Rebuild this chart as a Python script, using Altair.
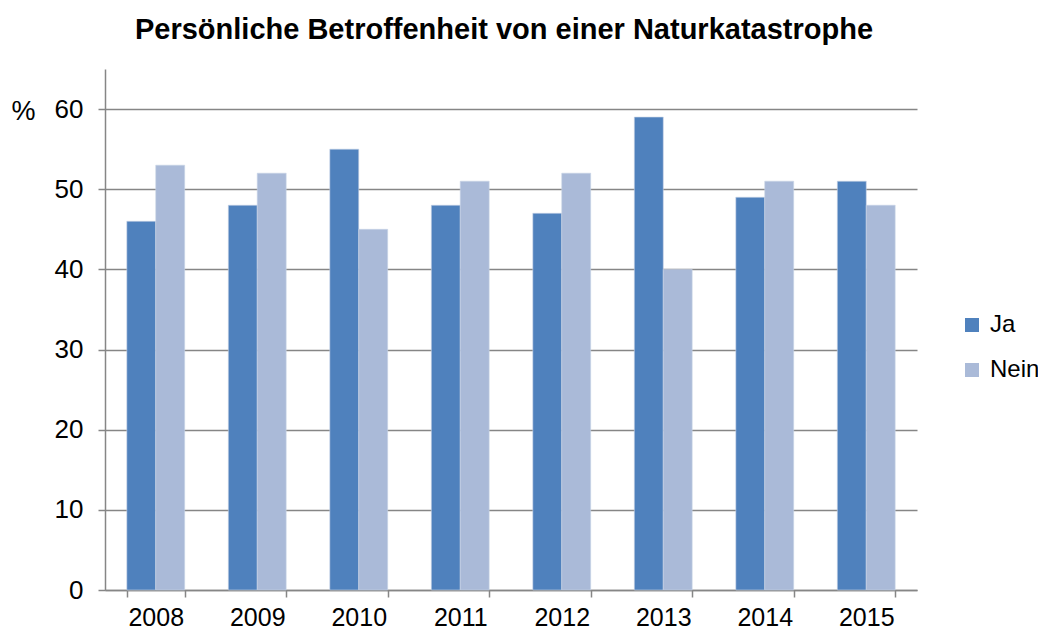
import altair as alt
import pandas as pd

years = ["2008", "2009", "2010", "2011", "2012", "2013", "2014", "2015"]
ja = [46, 48, 55, 48, 47, 59, 49, 51]
nein = [53, 52, 45, 51, 52, 40, 51, 48]
series = ["Ja", "Nein"]
colors = ["#4F81BD", "#AABAD8"]
y_ticks = [0, 10, 20, 30, 40, 50, 60]

rows = []
for i, yr in enumerate(years):
    rows.append({"Jahr": yr, "Antwort": "Ja", "Wert": ja[i]})
    rows.append({"Jahr": yr, "Antwort": "Nein", "Wert": nein[i]})
df = pd.DataFrame(rows)

font = "Liberation Sans"
axis_color = "#868686"

chart = alt.Chart(df).mark_bar(stroke="#c8d3e6", strokeWidth=0.6).encode(
    x=alt.X("Jahr:N", sort=years, title=None,
            scale=alt.Scale(paddingInner=0.43, paddingOuter=0.215),
            axis=alt.Axis(labelAngle=0, labelFontSize=25, labelFont=font, labelColor="#000000",
                          tickBand="extent", tickSize=7, tickColor=axis_color, tickWidth=1.5,
                          domainColor=axis_color, domainWidth=1.5, labelPadding=8, grid=False)),
    xOffset=alt.XOffset("Antwort:N", sort=series, scale=alt.Scale(paddingInner=0, paddingOuter=0)),
    y=alt.Y("Wert:Q", title="%",
            scale=alt.Scale(domain=[0, 65], nice=False),
            axis=alt.Axis(values=y_ticks, labelFontSize=26, labelFont=font, labelColor="#000000",
                          tickSize=7, tickColor=axis_color, tickWidth=1.5,
                          domainColor=axis_color, domainWidth=1.5,
                          gridColor=axis_color, gridWidth=1.5, labelPadding=15,
                          titleAngle=0, titleFont=font, titleFontSize=27, titleFontWeight="normal",
                          titleColor="#000000", titleAlign="left", titleBaseline="middle",
                          titleX=-94, titleY=42)),
    color=alt.Color("Antwort:N", sort=series,
                    scale=alt.Scale(domain=series, range=colors),
                    legend=alt.Legend(title=None, orient="none", legendX=855, legendY=244,
                                      symbolType="square", symbolSize=196, symbolStrokeWidth=0,
                                      labelFontSize=24, labelFont=font, labelColor="#000000",
                                      rowPadding=21, labelOffset=6, labelLimit=300,
                                      labelExpr="datum.label == 'Nein' ? '\u2009Nein' : datum.label")),
).properties(
    width=812, height=521,
    title=alt.TitleParams("Persönliche Betroffenheit von einer Naturkatastrophe",
                          font=font, fontSize=29, fontWeight="bold", color="#000000",
                          anchor="middle", offset=24, dx=-7),
    autosize=alt.AutoSizeParams(type="none"),
    padding={"left": 97, "top": 61, "right": 121, "bottom": 40},
).configure_view(stroke=None)

chart.save("out.html", embed_options={"renderer": "svg", "actions": False})
